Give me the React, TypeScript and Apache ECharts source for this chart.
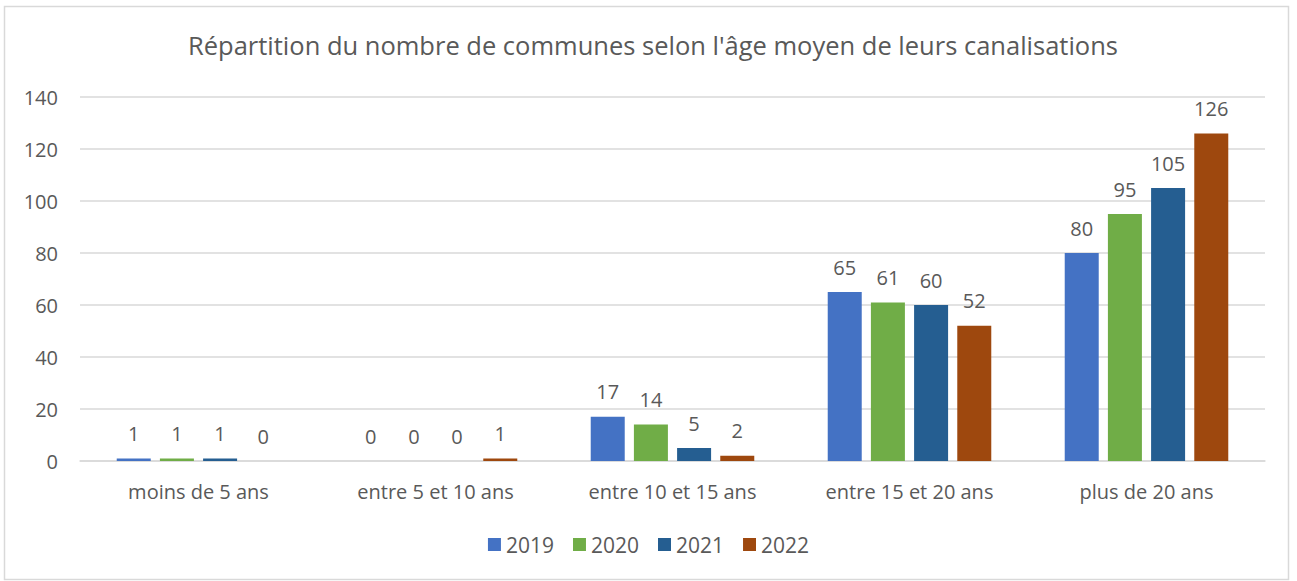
import React, { useEffect, useRef } from "react";
import * as echarts from "echarts";

const categories = ["moins de 5 ans", "entre 5 et 10 ans", "entre 10 et 15 ans", "entre 15 et 20 ans", "plus de 20 ans"];
const years = ["2019", "2020", "2021", "2022"];
const v2019 = [1, 0, 17, 65, 80];
const v2020 = [1, 0, 14, 61, 95];
const v2021 = [1, 0, 5, 60, 105];
const v2022 = [0, 1, 2, 52, 126];
const yTicks = { min: 0, max: 140, interval: 20 };
const colors = ["#4472C4", "#70AD47", "#255E91", "#9E480E"];

export default function App() {
  const ref = useRef<HTMLDivElement>(null);
  useEffect(() => {
    document.body.style.margin = "0";
    const chart = echarts.init(ref.current!, undefined, { renderer: "svg" });
    const font = "Open Sans, Noto Sans, sans-serif";
    const seriesData = [v2019, v2020, v2021, v2022];
    chart.setOption({
      animation: false,
      textStyle: { fontFamily: font },
      title: {
        text: "Répartition du nombre de communes selon l'âge moyen de leurs canalisations",
        left: 648,
        textAlign: "center",
        top: 27,
        textStyle: { fontSize: 25.5, fontWeight: "normal", color: "#595959", fontFamily: font },
      },
      graphic: [
        {
          type: "rect",
          shape: { x: 4.5, y: 6.5, width: 1284, height: 573 },
          style: { fill: "none", stroke: "#D9D9D9", lineWidth: 1.5 },
          silent: true,
        },
      ],
      legend: {
        data: years,
        bottom: 21,
        left: "center",
        itemWidth: 13,
        itemHeight: 13,
        itemGap: 19,
        icon: "rect",
        textStyle: { fontSize: 21, color: "#595959", fontFamily: font },
      },
      grid: { left: 80, right: 32, top: 97, bottom: 120, containLabel: false },
      xAxis: {
        type: "category",
        data: categories,
        axisLine: { lineStyle: { color: "#D9D9D9", width: 1.5 } },
        axisTick: { show: false },
        axisLabel: { fontSize: 20, color: "#595959", margin: 20, fontFamily: font },
      },
      yAxis: {
        type: "value",
        min: yTicks.min,
        max: yTicks.max,
        interval: yTicks.interval,
        axisLine: { show: false },
        axisTick: { show: false },
        axisLabel: { fontSize: 20, color: "#595959", margin: 22, fontFamily: font },
        splitLine: { lineStyle: { color: "#D9D9D9", width: 1.5 } },
      },
      series: years.map((y, i) => ({
        name: y,
        type: "bar",
        data: seriesData[i],
        barWidth: 34,
        barGap: "27%",
        itemStyle: { color: colors[i] },
        label: {
          show: true,
          position: "top",
          distance: 15,
          fontSize: 20,
          color: "#595959",
          fontFamily: font,
        },
      })),
    });
    return () => chart.dispose();
  }, []);
  return <div ref={ref} style={{ width: 1297, height: 581, position: "absolute", left: 0, top: 0 }} />;
}
